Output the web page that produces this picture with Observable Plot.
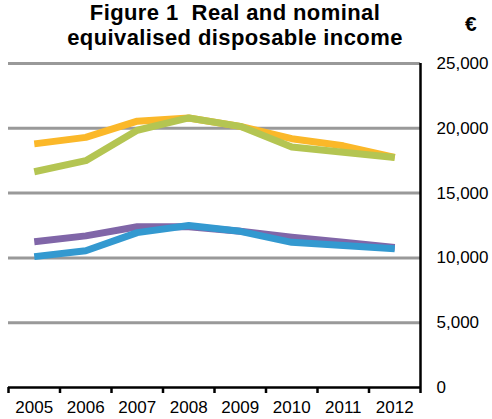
<!DOCTYPE html>
<html>
<head>
<meta charset="utf-8">
<script src="https://cdn.jsdelivr.net/npm/d3@7"></script>
<script src="https://cdn.jsdelivr.net/npm/@observablehq/plot@0.6"></script>
<style>
  html, body { margin: 0; padding: 0; background: #fff; }
  #wrap { position: relative; width: 492px; height: 419px; font-family: "Liberation Sans", Arial, sans-serif; }
  #title { position: absolute; left: 0; top: 0; width: 470px; text-align: center; font-weight: bold; font-size: 22px; letter-spacing: 0.4px; line-height: 25px; white-space: pre; color: #000; }
  #euro { position: absolute; left: 465px; top: 12px; font-weight: bold; font-size: 21px; color: #000; }
  #chart { position: absolute; left: 0; top: 0; }
</style>
</head>
<body>
<div id="wrap">
  <div id="chart"></div>
  <div id="title">Figure 1  Real and nominal
equivalised disposable income</div>
  <div id="euro">€</div>
</div>
<script>
const years = [2005, 2006, 2007, 2008, 2009, 2010, 2011, 2012];
const seriesOrange = [18800, 19300, 20550, 20800, 20150, 19200, 18650, 17750];
const seriesGreen  = [16650, 17500, 19850, 20800, 20150, 18550, 18150, 17750];
const seriesPurple = [11250, 11700, 12400, 12400, 12050, 11600, 11200, 10800];
const seriesBlue   = [10100, 10550, 11950, 12500, 12050, 11200, 10950, 10700];
const yTicks = [0, 5000, 10000, 15000, 20000, 25000];

const series = [
  {name: "s3", values: seriesPurple, color: "#8066A8"},
  {name: "s4", values: seriesBlue, color: "#3399D0"},
  {name: "s1", values: seriesOrange, color: "#FBB829"},
  {name: "s2", values: seriesGreen, color: "#B4C552"}
];
const rows = series.flatMap(s => s.values.map((v, i) => ({year: years[i], value: v, name: s.name})));

const xDomain = [years[0] - 0.5, years[years.length - 1] + 0.5];
const bounds = d3.range(xDomain[0], xDomain[1] + 0.01, 1);

const chart = Plot.plot({
  width: 492,
  height: 419,
  marginTop: 63,
  marginBottom: 32,
  marginLeft: 8,
  marginRight: 72,
  style: {fontFamily: "'Liberation Sans', Arial, sans-serif", fontSize: "17px", color: "#000", background: "#fff"},
  x: {type: "linear", domain: xDomain, label: null},
  y: {domain: [0, 25000], label: null},
  color: {type: "ordinal", domain: series.map(s => s.name), range: series.map(s => s.color)},
  marks: [
    Plot.ruleY(yTicks.filter(t => t > 0), {stroke: "#999999", strokeWidth: 3}),
    Plot.axisX({ticks: bounds, tickFormat: () => "", tickSize: 6, strokeWidth: 2.5, stroke: "#000", label: null}),
    Plot.axisX({ticks: years, tickFormat: d => String(d), tickSize: 0, tickPadding: 13, fontSize: 17, label: null}),
    Plot.axisY({anchor: "right", ticks: yTicks, tickFormat: d3.format(","), tickSize: 0, tickPadding: 16, fontSize: 17, label: null}),
    Plot.ruleY([0], {stroke: "#000", strokeWidth: 2.5}),
    Plot.ruleX([xDomain[1]], {y1: 0, y2: yTicks[yTicks.length - 1], stroke: "#000", strokeWidth: 2.5}),
    Plot.line(rows, {x: "year", y: "value", z: "name", stroke: "name", strokeWidth: 7, strokeLinejoin: "round", strokeLinecap: "butt"})
  ]
});
document.getElementById("chart").appendChild(chart);
</script>
</body>
</html>
